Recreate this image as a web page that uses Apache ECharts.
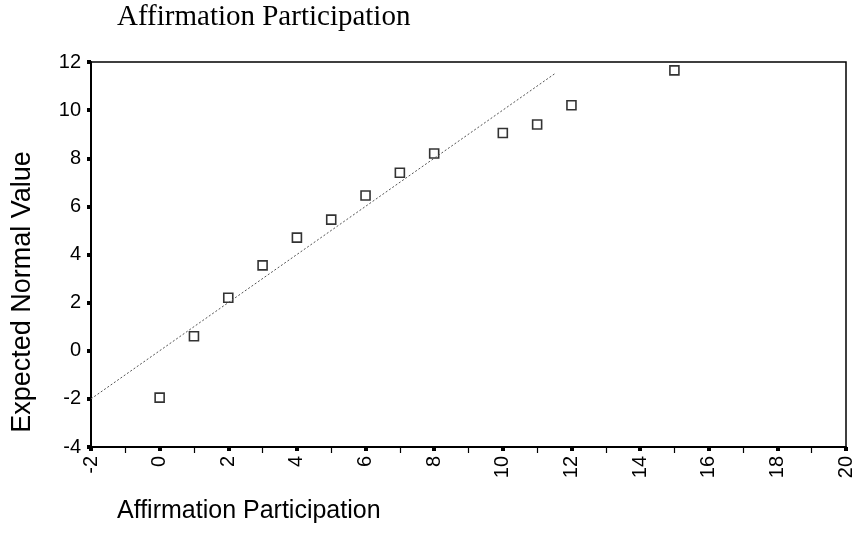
<!DOCTYPE html>
<html>
<head>
<meta charset="utf-8">
<script src="https://cdn.jsdelivr.net/npm/echarts@6/dist/echarts.min.js"></script>
<style>html,body{margin:0;padding:0;background:#fff}#c{width:856px;height:550px}</style>
</head>
<body>
<div id="c"></div>
<script>
const titleText = "Affirmation Participation";
const xAxisTitle = "Affirmation Participation";
const yAxisTitle = "Expected Normal Value";
const observedX = [0, 1, 2, 3, 4, 5, 6, 7, 8, 10, 11, 12, 15];
const expectedY = [-1.95, 0.6, 2.2, 3.55, 4.7, 5.45, 6.45, 7.4, 8.2, 9.05, 9.4, 10.2, 11.65];
const refLineX = [-2, 11.55];
const refLineY = [-2, 11.55];
const xMin = -2, xMax = 20, xStep = 2;
const yMin = -4, yMax = 12, yStep = 2;

const chart = echarts.init(document.getElementById('c'), null, {renderer: 'canvas'});
chart.setOption({
  animation: false,
  backgroundColor: '#fff',
  grid: {left: 91, right: 4, top: 62, bottom: 103, show: true, borderColor: '#000', borderWidth: 1.5, backgroundColor: 'transparent'},
  graphic: [
    {type: 'text', left: 117, top: 3, style: {text: titleText, font: '29px "Liberation Serif", "Times New Roman", serif', fill: '#000'}},
    {type: 'text', left: 117, top: 499, style: {text: xAxisTitle, font: '25px "Liberation Sans", Arial, sans-serif', fill: '#000'}},
    {type: 'text', x: 23, y: 292, rotation: Math.PI / 2, style: {text: yAxisTitle, font: '27px "Liberation Sans", Arial, sans-serif', fill: '#000', align: 'center', verticalAlign: 'middle'}}
  ],
  xAxis: {
    type: 'value', min: xMin, max: xMax, interval: xStep,
    axisLine: {onZero: false, lineStyle: {color: '#000', width: 2}},
    axisTick: {show: true, length: 4, lineStyle: {color: '#000', width: 4}},
    minorTick: {show: true, splitNumber: 2, length: 6, lineStyle: {color: '#000', width: 1.2}},
    splitLine: {show: false},
    axisLabel: {rotate: 90, margin: 9, fontSize: 20, color: '#000', fontFamily: '"Liberation Sans", Arial, sans-serif'}
  },
  yAxis: {
    type: 'value', min: yMin, max: yMax, interval: yStep,
    axisLine: {onZero: false, lineStyle: {color: '#000', width: 2}},
    axisTick: {show: true, length: 4, lineStyle: {color: '#000', width: 4}},
    splitLine: {show: false},
    axisLabel: {margin: 10, fontSize: 20, color: '#000', fontFamily: '"Liberation Sans", Arial, sans-serif'}
  },
  series: [
    {
      type: 'line',
      data: refLineX.map((x, i) => [x, refLineY[i]]),
      symbol: 'none',
      lineStyle: {color: '#555', width: 1, type: [2, 2]},
      silent: true
    },
    {
      type: 'scatter',
      data: observedX.map((x, i) => [x, expectedY[i]]),
      symbol: 'rect',
      symbolSize: 9,
      itemStyle: {color: '#fff', borderColor: '#000', borderWidth: 1.6}
    }
  ]
});
</script>
</body>
</html>
